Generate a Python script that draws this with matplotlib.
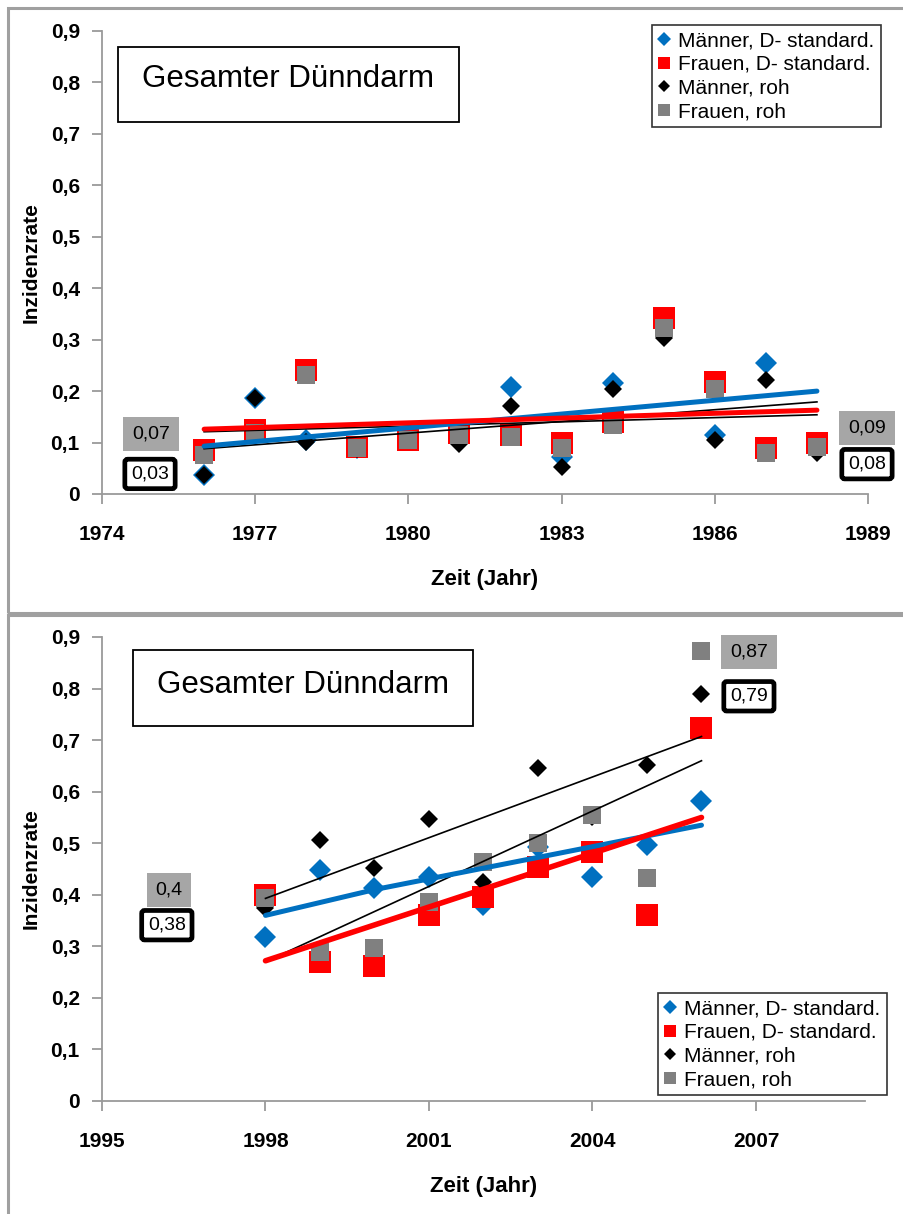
import matplotlib.pyplot as plt
from matplotlib.lines import Line2D
from matplotlib.patches import Rectangle

plt.rcParams['font.family'] = ['Liberation Sans', 'DejaVu Sans']

# --- panel 1 (1976-1988) ---
years_a = [1976, 1977, 1978, 1979, 1980, 1981, 1982, 1983, 1984, 1985, 1986, 1987, 1988]
m_std_a = [0.037, 0.187, 0.105, 0.090, 0.105, 0.103, 0.208, 0.072, 0.215, 0.330, 0.115, 0.255, 0.090]
f_std_a = [0.085, 0.125, 0.241, 0.092, 0.105, 0.118, 0.115, 0.100, 0.140, 0.342, 0.218, 0.090, 0.100]
m_roh_a = [0.037, 0.187, 0.101, 0.088, 0.105, 0.097, 0.171, 0.053, 0.205, 0.303, 0.105, 0.222, 0.080]
f_roh_a = [0.076, 0.118, 0.231, 0.090, 0.105, 0.115, 0.110, 0.090, 0.135, 0.323, 0.204, 0.080, 0.092]

trend_x_a = [1976, 1988]
trend_m_std_a = [0.093, 0.200]
trend_f_std_a = [0.126, 0.163]
trend_m_roh_a = [0.088, 0.179]
trend_f_roh_a = [0.121, 0.154]

labels_a = [('0,07', 'gray'), ('0,03', 'box'), ('0,09', 'gray'), ('0,08', 'box')]

# --- panel 2 (1998-2006) ---
years_b = [1998, 1999, 2000, 2001, 2002, 2003, 2004, 2005, 2006]
m_std_b = [0.318, 0.448, 0.413, 0.434, 0.380, 0.492, 0.434, 0.496, 0.581]
f_std_b = [0.399, 0.270, 0.262, 0.360, 0.395, 0.454, 0.483, 0.360, 0.723]
m_roh_b = [0.374, 0.506, 0.452, 0.547, 0.424, 0.645, 0.550, 0.651, 0.789]
f_roh_b = [0.393, 0.289, 0.297, 0.386, 0.463, 0.500, 0.554, 0.432, 0.872]

trend_x_b = [1998, 2006]
trend_m_std_x_b = [1998, 2000, 2006]
trend_m_std_b = [0.360, 0.410, 0.535]
trend_f_std_b = [0.272, 0.550]
trend_m_roh_b = [0.393, 0.707]
trend_f_roh_b = [0.270, 0.660]

labels_b = [('0,4', 'gray'), ('0,38', 'box'), ('0,87', 'gray'), ('0,79', 'box')]

series_names = ['Männer, D- standard.', 'Frauen, D- standard.', 'Männer, roh', 'Frauen, roh']

BLUE = '#0070C0'
RED = '#FF0000'
GRAY = '#808080'
AXIS = '#9A9A9A'

fig = plt.figure(figsize=(9.04, 12.14), dpi=100)

# panel frames
for y0, h in [(1 - 613 / 1214, 605 / 1214), (-0.05, 1 - 615 / 1214 + 0.05)]:
    fig.patches.append(Rectangle((8 / 904, y0), 1.1, h, transform=fig.transFigure,
                                 fill=False, ec='#A0A0A0', lw=2.2))

ax1 = fig.add_axes([102 / 904, 1 - 494 / 1214, 766 / 904, 463 / 1214])
ax2 = fig.add_axes([102 / 904, 1 - 1101 / 1214, 763 / 904, 464 / 1214])


def yfmt(v, pos):
    return '0' if abs(v) < 1e-9 else f'{v:.1f}'.replace('.', ',')


def draw(ax, years, m_std, f_std, m_roh, f_roh):
    ax.plot(years, m_std, 'D', color=BLUE, ms=11, mew=0, zorder=2)
    ax.plot(years, f_std, 's', color=RED, ms=16, mew=0, zorder=2)
    ax.plot(years, m_roh, 'D', color='black', ms=9.5, mew=0, zorder=2)
    ax.plot(years, f_roh, 's', color=GRAY, ms=13, mew=0, zorder=2)


def style(ax, xlim, xticks):
    ax.set_xlim(*xlim)
    ax.set_ylim(0, 0.9)
    ax.set_xticks(xticks)
    ax.set_yticks([i / 10 for i in range(10)])
    ax.yaxis.set_major_formatter(plt.FuncFormatter(yfmt))
    for s in ['top', 'right']:
        ax.spines[s].set_visible(False)
    for s in ['left', 'bottom']:
        ax.spines[s].set_color(AXIS)
        ax.spines[s].set_linewidth(1.3)
    ax.tick_params(axis='both', color=AXIS, width=1.3, length=7, labelsize=15)
    ax.tick_params(axis='x', pad=15)
    ax.tick_params(axis='y', pad=9)
    for lab in ax.get_xticklabels() + ax.get_yticklabels():
        lab.set_fontweight('bold')
    ax.set_ylabel('Inzidenzrate', fontsize=15, fontweight='bold', labelpad=7)
    ax.set_xlabel('Zeit (Jahr)', fontsize=16, fontweight='bold', labelpad=18)
    ax.patch.set_alpha(0)


def value_labels(ax, labels, spots):
    for (txt, kind), (x, y) in zip(labels, spots):
        if kind == 'gray':
            bb = dict(boxstyle='square,pad=0.45', fc='#A6A6A6', ec='none')
        else:
            bb = dict(boxstyle='round,pad=0.32,rounding_size=0.15', fc='white', ec='black', lw=3.4)
        ax.text(x, y, txt, ha='center', va='center', fontsize=14, bbox=bb,
                clip_on=False, zorder=5)


def title_box(ax, x0, y0, x1, y1, tx, ty):
    ax.add_patch(Rectangle((x0, y0), x1 - x0, y1 - y0, transform=ax.transAxes,
                           fill=True, fc='white', ec='black', lw=1.3, zorder=4))
    ax.text(tx, ty, 'Gesamter Dünndarm', transform=ax.transAxes, ha='center',
            va='center', fontsize=22.5, zorder=5)


def legend(ax, anchor):
    handles = [
        Line2D([], [], ls='none', marker='D', color=BLUE, ms=7, mew=0),
        Line2D([], [], ls='none', marker='s', color=RED, ms=9, mew=0),
        Line2D([], [], ls='none', marker='D', color='black', ms=6, mew=0),
        Line2D([], [], ls='none', marker='s', color=GRAY, ms=8, mew=0),
    ]
    leg = ax.legend(handles, series_names, loc='upper left', bbox_to_anchor=anchor,
                    bbox_transform=fig.transFigure, fontsize=15, frameon=True,
                    fancybox=False, edgecolor='black', handlelength=0.6,
                    handletextpad=0.35, labelspacing=0.22, borderpad=0.3,
                    borderaxespad=0)
    leg.get_frame().set_linewidth(1.2)
    leg.set_zorder(6)


# panel 1
draw(ax1, years_a, m_std_a, f_std_a, m_roh_a, f_roh_a)
ax1.plot(trend_x_a, trend_m_roh_a, color='black', lw=1.2, zorder=3)
ax1.plot(trend_x_a, trend_f_roh_a, color='black', lw=1.2, zorder=3)
ax1.plot(trend_x_a, trend_m_std_a, color=BLUE, lw=3.6, solid_capstyle='round', zorder=3)
ax1.plot(trend_x_a, trend_f_std_a, color=RED, lw=3.6, solid_capstyle='round', zorder=3)
style(ax1, (1974, 1989), [1974, 1977, 1980, 1983, 1986, 1989])
value_labels(ax1, labels_a, [(1974.96, 0.117), (1974.94, 0.039), (1988.98, 0.128), (1988.98, 0.058)])
title_box(ax1, 0.021, 0.803, 0.466, 0.965, 0.243, 0.897)
legend(ax1, (652 / 904, 1 - 25 / 1214))

# panel 2
draw(ax2, years_b, m_std_b, f_std_b, m_roh_b, f_roh_b)
ax2.plot(trend_x_b, trend_m_roh_b, color='black', lw=1.2, zorder=3)
ax2.plot(trend_x_b, trend_f_roh_b, color='black', lw=1.2, zorder=3)
ax2.plot(trend_m_std_x_b, trend_m_std_b, color=BLUE, lw=3.6, solid_capstyle='round', zorder=3)
ax2.plot(trend_x_b, trend_f_std_b, color=RED, lw=4.0, solid_capstyle='round', zorder=3)
style(ax2, (1995, 2009), [1995, 1998, 2001, 2004, 2007])
value_labels(ax2, labels_b, [(1996.23, 0.409), (1996.19, 0.341), (2006.87, 0.871), (2006.87, 0.785)])
title_box(ax2, 0.041, 0.808, 0.486, 0.972, 0.263, 0.897)
legend(ax2, (658 / 904, 1 - 993 / 1214))

fig.savefig('out.png', dpi=100)
